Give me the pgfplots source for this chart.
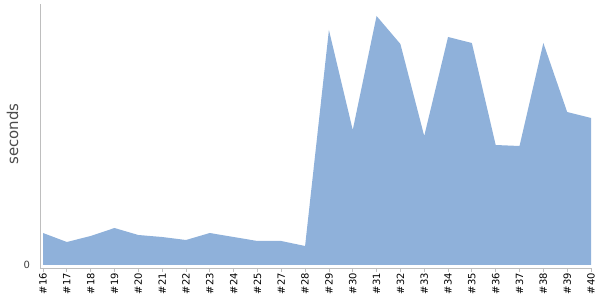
\documentclass[border=0pt]{standalone}
\usepackage{fontspec}
\setmainfont{DejaVu Sans}
\usepackage{pgfplots}
\pgfplotsset{compat=1.18}
\definecolor{areablue}{RGB}{143,177,218}
\definecolor{axgray}{RGB}{190,190,190}
\begin{document}
\begin{tikzpicture}[x=1bp,y=1bp]
\begin{axis}[
  scale only axis,
  width=551bp, height=264bp,
  xmin=-0.126, xmax=23,
  ymin=-3, ymax=261,
  axis x line=bottom, axis y line=left,
  axis line style={-, draw=axgray, line width=0.8bp},
  xtick={0,...,23},
  xticklabels={\#16,\#17,\#18,\#19,\#20,\#21,\#22,\#23,\#24,\#25,\#27,\#28,\#29,\#30,\#31,\#32,\#33,\#34,\#35,\#36,\#37,\#38,\#39,\#40},
  x tick label style={rotate=90, anchor=east, font=\fontsize{10}{10}\selectfont, inner sep=1.5bp},
  x tick style={draw=axgray, line width=0.8bp},
  major tick length=3.5bp,
  tick align=outside,
  ytick={0},
  y tick style={draw=none},
  y tick label style={font=\fontsize{10}{10}\selectfont, text=black!75, xshift=-3bp},
  /pgf/number format/assume math mode=true,
  ylabel={seconds},
  every axis y label/.style={at={(rel axis cs:0,0.5)}, rotate=90, anchor=center, yshift=27.5bp, xshift=2bp, font=\fontsize{15}{15}\selectfont, text=black!70},
  clip=false,
]
\addplot[fill=areablue, draw=none] coordinates {
(0,0) (0,32) (1,23) (2,29) (3,37) (4,30) (5,28) (6,25) (7,32) (8,28) (9,24) (10,24) (11,19)
(12,235) (13,135) (14,249) (15,221) (16,129) (17,228) (18,222) (19,120) (20,119) (21,222) (22,153) (23,147) (23,0)
} -- cycle;
\end{axis}
\pgfresetboundingbox
\path ([shift={(-40bp,-32bp)}]current axis.south west) rectangle ([shift={(9bp,4bp)}]current axis.north east);
\end{tikzpicture}
\end{document}
